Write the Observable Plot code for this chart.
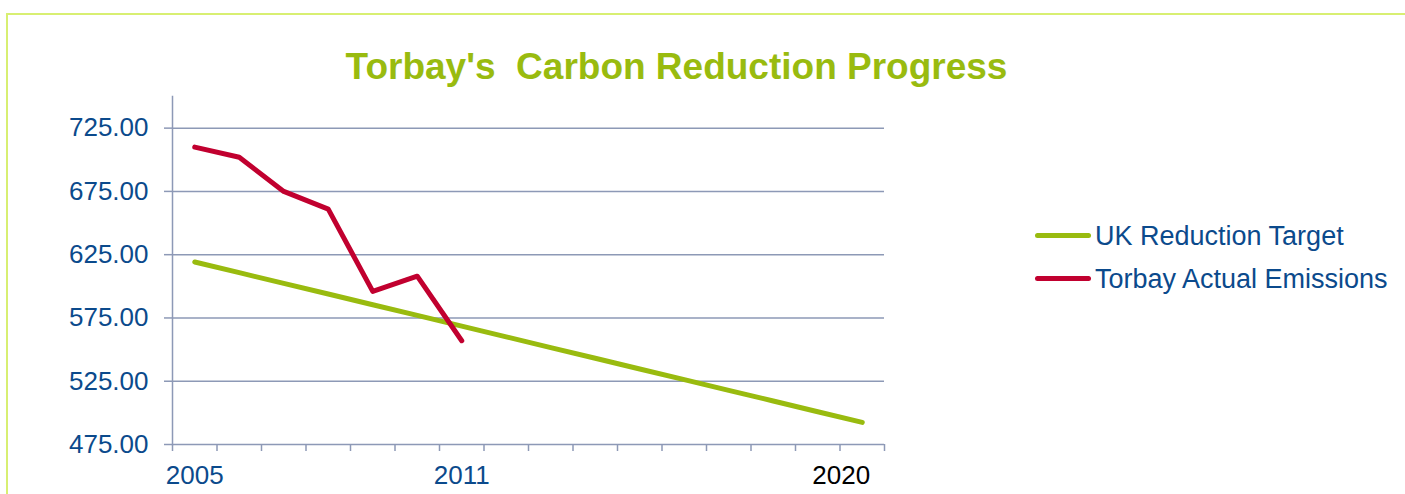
<!DOCTYPE html>
<html>
<head>
<meta charset="utf-8">
<script src="https://cdn.jsdelivr.net/npm/d3@7"></script>
<script src="https://cdn.jsdelivr.net/npm/@observablehq/plot@0.6"></script>
<style>
  html, body { margin: 0; padding: 0; background: #ffffff; overflow: hidden; width: 1405px; height: 494px; }
  #wrap { position: relative; width: 1405px; height: 494px; font-family: "Liberation Sans", Arial, sans-serif; }
  #border { position: absolute; left: 6px; top: 13px; width: 1420px; height: 500px; border-top: 2px solid #d8ef72; border-left: 2px solid #d8ef72; }
  #chart { position: absolute; left: 0; top: 0; }
  #title { position: absolute; left: 0; width: 1353px; top: 48px; text-align: center; font-size: 37px; line-height: 1; font-weight: bold; color: #99bb0f; white-space: pre; }
  .leg { position: absolute; left: 1035px; font-size: 27px; line-height: 1; color: #0b4a8c; white-space: nowrap; }
  .sw { position: absolute; left: 0; width: 56px; height: 5px; border-radius: 3px; }
  .lt { position: absolute; left: 60px; top: 0; }
</style>
</head>
<body>
<div id="wrap">
  <div id="border"></div>
  <div id="chart"></div>
  <div id="title">Torbay's  Carbon Reduction Progress</div>
  <div id="legend"></div>
</div>
<script>
// ---- data ----
const years = [2005, 2006, 2007, 2008, 2009, 2010, 2011, 2012, 2013, 2014, 2015, 2016, 2017, 2018, 2019, 2020];
const ukTarget = [619.2, 610.8, 602.3, 593.9, 585.4, 577.0, 568.5, 560.1, 551.6, 543.2, 534.7, 526.3, 517.8, 509.4, 500.9, 492.5];
const torbayActual = [710, 702, 675, 661, 596, 608, 557];
const seriesNames = ["UK Reduction Target", "Torbay Actual Emissions"];
const yTicks = [475, 525, 575, 625, 675, 725];
const yDomain = [475, 750];
const xLabelsRow1 = [2005, 2011];
const xLabelsRow2 = [2007, 2009, 2013, 2015, 2017, 2019];
const overlayLabel = "2020";

// ---- styles ----
const green = "#99bb0f";
const red = "#c1002f";
const blue = "#0b4a8c";
const grid = "#8d99b6";

const ukData = years.map((yr, i) => ({year: yr, value: ukTarget[i]}));
const torbayData = torbayActual.map((v, i) => ({year: years[i], value: v}));
const boundaries = years.map(y => y - 0.5).concat([years[years.length - 1] + 0.5]);
const fmtYear = d3.format("d");

const chart = Plot.plot({
  width: 1405,
  height: 520,
  marginLeft: 172,
  marginRight: 521,
  marginTop: 96,
  marginBottom: 76,
  style: {fontFamily: "'Liberation Sans', Arial, sans-serif", background: "transparent"},
  x: {domain: [boundaries[0], boundaries[boundaries.length - 1]]},
  y: {domain: yDomain},
  marks: [
    Plot.gridY(yTicks, {stroke: grid, strokeOpacity: 1, strokeWidth: 1.5}),
    Plot.axisY(yTicks, {tickSize: 8, tickPadding: 16, tickFormat: d => d.toFixed(2), fontSize: 26, fill: blue, stroke: grid, strokeWidth: 1.5, label: null}),
    Plot.frame({anchor: "left", stroke: grid, strokeWidth: 1.5}),
    Plot.axisX(boundaries, {tickSize: 7, tickFormat: () => "", stroke: grid, strokeWidth: 1.5, label: null}),
    Plot.axisX(xLabelsRow1, {tickSize: 0, tickPadding: 21, tickFormat: fmtYear, fontSize: 26, fill: blue, label: null}),
    Plot.axisX(xLabelsRow2, {tickSize: 0, tickPadding: 49, tickFormat: fmtYear, fontSize: 26, fill: blue, label: null}),
    Plot.text([overlayLabel], {x: d => +d, frameAnchor: "bottom", dx: -21, dy: 21, lineAnchor: "top", fontSize: 26, fill: "black"}),
    Plot.line(ukData, {x: "year", y: "value", stroke: green, strokeWidth: 5, strokeLinecap: "round", strokeLinejoin: "round"}),
    Plot.line(torbayData, {x: "year", y: "value", stroke: red, strokeWidth: 5, strokeLinecap: "round", strokeLinejoin: "round"})
  ]
});
document.getElementById("chart").appendChild(chart);

// ---- legend ----
const legend = document.getElementById("legend");
const legColors = [green, red];
const legTops = [223, 266];
seriesNames.forEach((name, i) => {
  const item = document.createElement("div");
  item.className = "leg";
  item.style.top = legTops[i] + "px";
  const sw = document.createElement("div");
  sw.className = "sw";
  sw.style.background = legColors[i];
  sw.style.top = "10px";
  const t = document.createElement("div");
  t.className = "lt";
  t.textContent = name;
  item.appendChild(sw);
  item.appendChild(t);
  legend.appendChild(item);
});
</script>
</body>
</html>
